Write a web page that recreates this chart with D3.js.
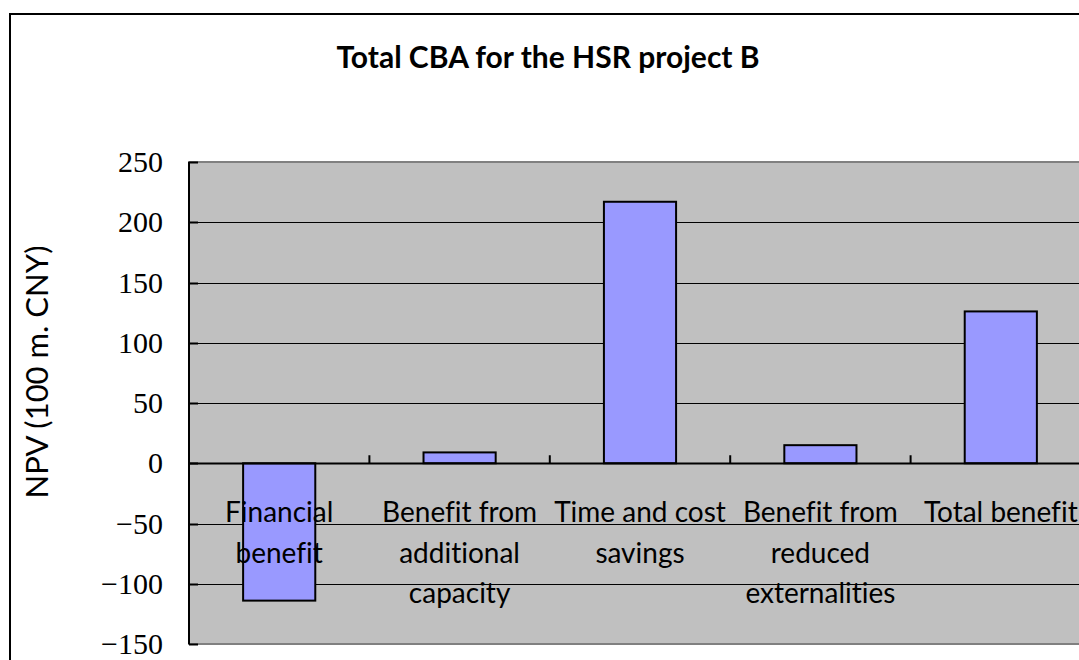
<!DOCTYPE html>
<html>
<head>
<meta charset="utf-8">
<script src="https://cdn.jsdelivr.net/npm/d3@7"></script>
<style>
  html, body { margin: 0; padding: 0; background: #fff; }
  svg { display: block; }
  text { font-variant-ligatures: none; font-feature-settings: "liga" 0; }
</style>
</head>
<body>
<svg id="chart" width="1079" height="660"></svg>
<script>
// chart data
var categories = [
    "Financial benefit",
    "Benefit from additional capacity",
    "Time and cost savings",
    "Benefit from reduced externalities",
    "Total benefit"
];
var npvValues = [-114, 9, 217, 15, 126];
var yTicks = [-150, -100, -50, 0, 50, 100, 150, 200, 250];

var chartTitle = "Total CBA for the HSR project B";
var yTitle = "NPV (100 m. CNY)";

var svg = d3.select("#chart");

var plot = { left: 189, right: 1091, top: 162, bottom: 644 };
var sansFont = "Lato, 'Open Sans', sans-serif";

var y = d3.scaleLinear()
    .domain([-150, 250])
    .range([plot.bottom, plot.top]);

var x = d3.scaleBand()
    .domain(categories)
    .range([plot.left, plot.right]);

// outer chart border (right and bottom fall outside the picture)
svg.append("rect")
    .attr("x", 10).attr("y", 14)
    .attr("width", 1100).attr("height", 700)
    .attr("fill", "#fff")
    .attr("stroke", "#000")
    .attr("stroke-width", 2);

// plot area
svg.append("rect")
    .attr("x", plot.left).attr("y", plot.top)
    .attr("width", plot.right - plot.left)
    .attr("height", plot.bottom - plot.top)
    .attr("fill", "#c0c0c0")
    .attr("stroke", "#808080")
    .attr("stroke-width", 2);

// gridlines
svg.append("g")
    .selectAll("line")
    .data(yTicks.filter(function(t) { return t > -150 && t < 250; }))
    .join("line")
    .attr("x1", plot.left).attr("x2", plot.right)
    .attr("y1", function(d) { return Math.round(y(d)) + 0.5; })
    .attr("y2", function(d) { return Math.round(y(d)) + 0.5; })
    .attr("stroke", "#000")
    .attr("stroke-width", 1.2);

// bars
var barW = x.bandwidth() * 0.4;
svg.append("g")
    .selectAll("rect")
    .data(npvValues)
    .join("rect")
    .attr("x", function(d, i) { return x(categories[i]) + (x.bandwidth() - barW) / 2; })
    .attr("y", function(d) { return y(Math.max(0, d)); })
    .attr("width", barW)
    .attr("height", function(d) { return Math.abs(y(d) - y(0)); })
    .attr("fill", "#9999ff")
    .attr("stroke", "#000")
    .attr("stroke-width", 2);

// y axis: line, inside ticks, serif labels
var yAxis = svg.append("g");
yAxis.append("line")
    .attr("x1", plot.left).attr("x2", plot.left)
    .attr("y1", plot.top).attr("y2", plot.bottom)
    .attr("stroke", "#000").attr("stroke-width", 2);
yAxis.selectAll("line.tick")
    .data(yTicks)
    .join("line")
    .attr("class", "tick")
    .attr("x1", plot.left).attr("x2", plot.left + 9)
    .attr("y1", function(d) { return Math.round(y(d)) + 0.5; })
    .attr("y2", function(d) { return Math.round(y(d)) + 0.5; })
    .attr("stroke", "#000").attr("stroke-width", 2);
yAxis.selectAll("text")
    .data(yTicks)
    .join("text")
    .attr("x", 163)
    .attr("y", function(d) { return y(d); })
    .attr("dy", "0.34em")
    .attr("text-anchor", "end")
    .attr("font-family", "'Liberation Serif', 'DejaVu Serif', serif")
    .attr("font-size", 30)
    .attr("fill", "#000")
    .text(function(d) { return d < 0 ? "\u2212" + Math.abs(d) : d; });

// x axis along zero, ticks pointing up at category edges
var xAxis = svg.append("g");
xAxis.append("line")
    .attr("x1", plot.left).attr("x2", plot.right)
    .attr("y1", Math.round(y(0)) + 0.5).attr("y2", Math.round(y(0)) + 0.5)
    .attr("stroke", "#000").attr("stroke-width", 2);
xAxis.selectAll("line.tick")
    .data(categories.slice(1))
    .join("line")
    .attr("class", "tick")
    .attr("x1", function(d) { return x(d); })
    .attr("x2", function(d) { return x(d); })
    .attr("y1", y(0)).attr("y2", y(0) - 8)
    .attr("stroke", "#000").attr("stroke-width", 2);

// category labels, wrapped to the band width
var labels = xAxis.selectAll("text")
    .data(categories)
    .join("text")
    .attr("text-anchor", "middle")
    .attr("font-family", sansFont)
    .attr("font-size", 28)
    .attr("fill", "#000");

labels.each(function(d) {
    var text = d3.select(this);
    var cx = x(d) + x.bandwidth() / 2;
    var words = d.split(" ");
    var lines = [];
    var line = [];
    var probe = text.append("tspan");
    words.forEach(function(w) {
        line.push(w);
        probe.text(line.join(" "));
        if (probe.node().getComputedTextLength() > x.bandwidth() - 2 && line.length > 1) {
            line.pop();
            lines.push(line.join(" "));
            line = [w];
        }
    });
    lines.push(line.join(" "));
    probe.remove();
    lines.forEach(function(l, i) {
        text.append("tspan")
            .attr("x", cx)
            .attr("y", 522 + i * 40.5)
            .text(l);
    });
});

// titles
svg.append("text")
    .attr("x", 548)
    .attr("y", 68)
    .attr("text-anchor", "middle")
    .attr("font-family", sansFont)
    .attr("font-weight", "bold")
    .attr("font-size", 30)
    .attr("fill", "#000")
    .text(chartTitle);

svg.append("text")
    .attr("transform", "translate(48,372) rotate(-90)")
    .attr("text-anchor", "middle")
    .attr("font-family", sansFont)
    .attr("font-size", 31)
    .attr("fill", "#000")
    .text(yTitle);
</script>
</body>
</html>
